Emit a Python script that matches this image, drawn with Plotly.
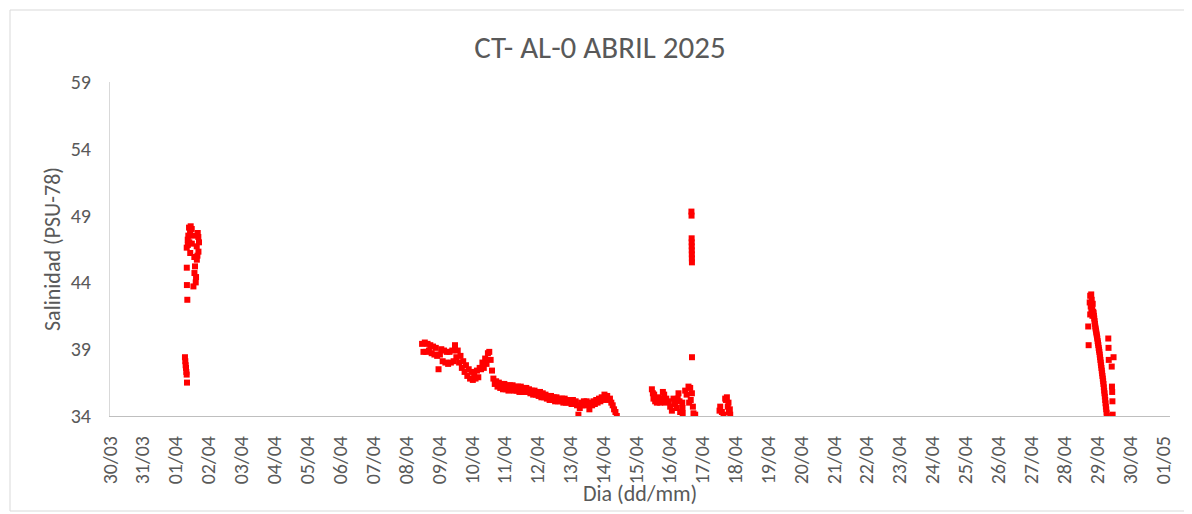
import pandas as pd
import plotly.graph_objects as go

# ---------------- DATA ----------------
# 01/04 burst (scattered readings)
t_apr01 = ["2025-04-01 06:40", "2025-04-01 06:55", "2025-04-01 07:10", "2025-04-01 07:25",
           "2025-04-01 07:40", "2025-04-01 07:55", "2025-04-01 08:10",
           "2025-04-01 09:38", "2025-04-01 11:36", "2025-04-01 10:22", "2025-04-01 09:07",
           "2025-04-01 08:41", "2025-04-01 12:46", "2025-04-01 16:25", "2025-04-01 16:55",
           "2025-04-01 08:45", "2025-04-01 11:40", "2025-04-01 15:15", "2025-04-01 16:30",
           "2025-04-01 07:57", "2025-04-01 10:30", "2025-04-01 13:30", "2025-04-01 15:20",
           "2025-04-01 08:00", "2025-04-01 14:00", "2025-04-01 13:35", "2025-04-01 14:31",
           "2025-04-01 12:50", "2025-04-01 08:05", "2025-04-01 08:23", "2025-04-01 10:50",
           "2025-04-01 16:00", "2025-04-01 15:45", "2025-04-01 14:45", "2025-04-01 09:50"]
v_apr01 = [38.4, 38.1, 37.8, 37.6, 37.3, 37.1, 36.5,
           48.1, 48.0, 47.8, 47.5, 47.2, 47.5, 47.4, 47.0,
           46.8, 46.9, 46.7, 46.3, 46.6, 46.2, 45.9, 45.7,
           45.1, 45.2, 44.7, 44.0, 43.7, 43.8, 42.7, 48.2,
           47.7, 46.0, 44.4, 47.0]

# 08/04 - 14/04 continuous logging (hourly)
start_main = "2025-04-08 11:35"
step_main = "60min"
v_main = [39.4, 38.8, 39.5, 38.8, 39.4, 38.9, 39.3, 38.7, 39.2, 38.6,
          39.1, 38.5, 37.5, 38.6, 39.0, 38.1, 38.9, 38.0, 38.8, 37.9,
          38.8, 38.0, 38.9, 38.1, 39.3, 38.4, 38.9, 38.0, 38.5, 37.6,
          38.1, 37.3, 37.8, 37.0, 37.5, 36.8, 37.3, 36.7, 37.2, 36.8,
          37.4, 36.9, 37.6, 37.5, 38.0, 37.6, 38.3, 37.9, 38.7, 38.8,
          38.2, 37.4, 36.8, 36.4, 36.6, 36.2, 36.5, 36.1, 36.4, 36.0,
          36.4, 36.0, 36.3, 35.9, 36.3, 36.0, 36.3, 35.9, 36.2, 35.9,
          36.2, 35.8, 36.2, 35.8, 36.1, 35.8, 36.1, 35.8, 36.0, 35.7,
          35.9, 35.6, 35.9, 35.6, 35.8, 35.5, 35.8, 35.4, 35.7, 35.4,
          35.6, 35.3, 35.5, 35.2, 35.5, 35.2, 35.4, 35.1, 35.4, 35.1,
          35.3, 35.1, 35.3, 35.0, 35.3, 35.0, 35.2, 35.0, 35.2, 34.9,
          35.2, 34.9, 35.1, 34.8, 34.1, 34.6, 35.0, 34.8, 35.1, 34.8,
          35.1, 34.9, 34.5, 35.0, 34.8, 35.1, 34.9, 35.2, 35.0, 35.3,
          35.1, 35.4, 35.2, 35.6, 35.4, 35.5, 35.2, 35.3, 35.0, 34.8,
          34.5, 34.3, 34.0]

# 15/04 - 17/04 scattered readings
t_apr15 = ["2025-04-15 11:10", "2025-04-15 11:54", "2025-04-15 12:20", "2025-04-15 13:34",
           "2025-04-15 14:48", "2025-04-15 15:59", "2025-04-15 17:13", "2025-04-15 19:11",
           "2025-04-15 20:08", "2025-04-15 20:52", "2025-04-15 23:16", "2025-04-16 00:31",
           "2025-04-16 01:45", "2025-04-16 02:55", "2025-04-16 04:10", "2025-04-16 05:24",
           "2025-04-16 06:35", "2025-04-16 07:18", "2025-04-16 07:48", "2025-04-16 09:20",
           "2025-04-16 09:29", "2025-04-16 09:38", "2025-04-16 11:27", "2025-04-16 13:52",
           "2025-04-16 15:06", "2025-04-16 16:21", "2025-04-16 15:30", "2025-04-16 17:04",
           "2025-04-16 17:30", "2025-04-16 18:45",
           "2025-04-15 12:50", "2025-04-15 16:30", "2025-04-15 18:00", "2025-04-15 21:40",
           "2025-04-16 03:30", "2025-04-16 06:00", "2025-04-16 12:30", "2025-04-16 14:20",
           "2025-04-16 16:00", "2025-04-16 16:05", "2025-04-16 16:10", "2025-04-16 16:12",
           "2025-04-16 16:14", "2025-04-16 16:16", "2025-04-16 16:18", "2025-04-16 16:20",
           "2025-04-16 16:22", "2025-04-16 16:24",
           "2025-04-17 13:00", "2025-04-17 14:13", "2025-04-17 15:24", "2025-04-17 16:38",
           "2025-04-17 17:52", "2025-04-17 19:02", "2025-04-17 19:20", "2025-04-17 20:17",
           "2025-04-17 17:10", "2025-04-17 18:30", "2025-04-17 20:00", "2025-04-17 12:30"]
v_apr15 = [36.0, 35.7, 35.3, 35.1,
           35.0, 35.4, 35.0, 35.8,
           35.6, 35.0, 35.1, 34.7,
           34.4, 35.3, 35.0, 34.6,
           35.7, 35.1, 34.3, 35.0,
           34.6, 34.2, 35.9, 36.2,
           36.1, 35.7, 35.2, 34.7,
           34.2, 34.1,
           35.6, 35.2, 35.3, 35.3,
           34.9, 35.3, 35.6, 35.0,
           49.3, 49.0, 47.3, 47.0, 46.7, 46.4, 46.1, 45.8, 45.5, 38.4,
           34.7, 34.3, 34.1, 35.3,
           35.4, 35.0, 34.3, 34.1,
           35.2, 34.7, 34.5, 34.4]

# 28/04 - 29/04 : blob, falling trend and scattered readings
t_apr28 = ["2025-04-28 17:22", "2025-04-28 17:40",
           "2025-04-28 18:27", "2025-04-28 18:49", "2025-04-28 19:11", "2025-04-28 19:33",
           "2025-04-28 19:40", "2025-04-28 19:55", "2025-04-28 20:17", "2025-04-28 20:25",
           "2025-04-28 20:38", "2025-04-28 21:00", "2025-04-28 18:49",
           "2025-04-29 08:00", "2025-04-29 08:10", "2025-04-29 08:20", "2025-04-29 11:50",
           "2025-04-29 10:30", "2025-04-29 10:40", "2025-04-29 10:50", "2025-04-29 11:00",
           "2025-04-29 11:10"]
v_apr28 = [40.7, 39.3,
           42.5, 43.0, 42.2, 43.1,
           41.9, 42.7, 42.0, 41.5,
           42.4, 41.8, 41.6,
           39.8, 39.1, 38.2, 38.4,
           37.7, 36.2, 35.8, 35.1,
           34.1]

start_fall = "2025-04-28 21:15"
step_fall = "15min"
v_fall = [41.7, 41.5, 41.3, 41.1, 40.9, 40.7,
          40.55, 40.4, 40.25, 40.1, 39.95, 39.8, 39.6,
          39.45, 39.3, 39.1, 38.95, 38.8, 38.6, 38.4,
          38.2, 38.0, 37.8, 37.6, 37.4,
          37.2, 37.0, 36.8, 36.6, 36.4,
          36.15, 35.9, 35.7, 35.45, 35.2,
          34.95, 34.7, 34.5, 34.25, 34.0]

y_ticks = [34, 39, 44, 49, 54, 59]
x_start = "2025-03-30"
x_end = "2025-05-01 05:00"

# ---------------- FIGURE ----------------
t_main = pd.date_range(start_main, periods=len(v_main), freq=step_main)
t_fall = pd.date_range(start_fall, periods=len(v_fall), freq=step_fall)

all_t = (list(pd.to_datetime(t_apr01)) + list(t_main) + list(pd.to_datetime(t_apr15))
         + list(pd.to_datetime(t_apr28)) + list(t_fall))
all_v = v_apr01 + v_main + v_apr15 + v_apr28 + v_fall

FONT = "Calibri, Carlito, 'Open Sans', sans-serif"
GREY = "#595959"

# the page body has an 8px margin -> figure is 1184x506 drawn at (8, 8)
W, H = 1184, 506
ML, MT = 102, 74
PW, PH = 1060, 334

fig = go.Figure()
fig.add_trace(go.Scatter(
    x=all_t, y=all_v, mode="markers",
    marker=dict(symbol="square", size=6, color="#FF0000", line=dict(width=0)),
    showlegend=False,
))

fig.update_layout(
    width=W, height=H,
    margin=dict(l=ML, r=W - ML - PW, t=MT, b=H - MT - PH),
    paper_bgcolor="white", plot_bgcolor="white",
    font=dict(family=FONT, color=GREY),
    title=dict(text="CT- AL-0 ABRIL 2025", x=0.5, xref="container", xanchor="center",
               y=1 - (47 - 8) / H, yref="container", yanchor="middle",
               font=dict(family=FONT, size=31, color=GREY)),
    xaxis=dict(
        type="date", range=[x_start, x_end],
        dtick=86400000, tick0=x_start, tickformat="%d/%m", tickangle=-90,
        showgrid=False, zeroline=False,
        showline=True, linecolor="#BFBFBF", linewidth=1,
        ticks="", ticklabelstandoff=11,
        tickfont=dict(family=FONT, size=20, color=GREY),
    ),
    yaxis=dict(
        range=[34, 59], tickvals=y_ticks, ticktext=[str(v) for v in y_ticks],
        showgrid=False, zeroline=False,
        showline=True, linecolor="#D9D9D9", linewidth=1,
        ticks="", ticklabelstandoff=14,
        tickfont=dict(family=FONT, size=20, color=GREY),
    ),
    annotations=[
        dict(text="Salinidad (PSU-78)", textangle=-90, xref="paper", yref="paper",
             x=(52 - 110) / PW, y=0.5, xanchor="center", yanchor="middle",
             showarrow=False, font=dict(family=FONT, size=22, color=GREY)),
        dict(text="Dia (dd/mm)", xref="paper", yref="paper",
             x=0.5, y=(416 - 493) / PH, xanchor="center", yanchor="middle",
             showarrow=False, font=dict(family=FONT, size=22, color=GREY)),
    ],
    shapes=[
        dict(type="rect", xref="paper", yref="paper",
             x0=(10 - 110) / PW, x1=(1189 - 110) / PW,
             y0=(416 - 511) / PH, y1=(416 - 10) / PH,
             line=dict(color="#D9D9D9", width=1), fillcolor="rgba(0,0,0,0)", layer="below"),
    ],
)

fig.write_html("out.html")
